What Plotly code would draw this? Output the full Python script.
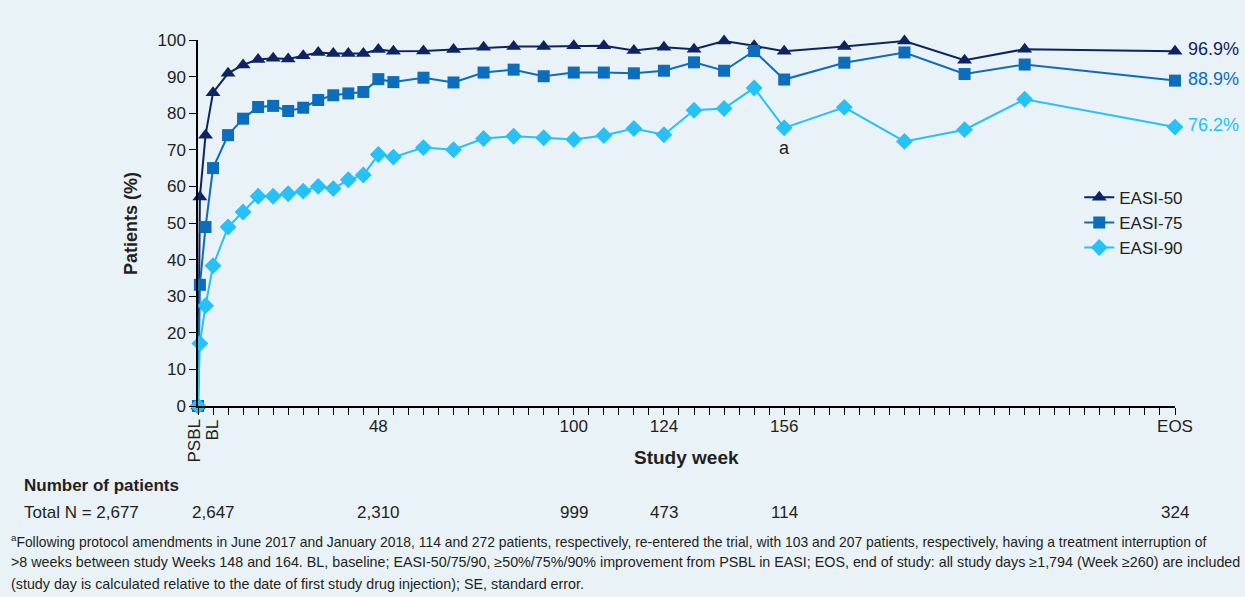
import plotly.graph_objects as go

# Study weeks (PSBL = 0, BL = week 4 position, EOS plotted at week 260)
weeks = [0, 0.5, 2, 4, 8, 12, 16, 20, 24, 28, 32, 36, 40, 44, 48, 52,
         60, 68, 76, 84, 92, 100, 108, 116, 124, 132, 140, 148, 156,
         172, 188, 204, 220, 260]

easi50 = [0, 57.1, 74.0, 85.6, 90.9, 93.2, 94.7, 95.0, 94.8, 95.7, 96.6, 96.3,
          96.3, 96.3, 97.4, 96.9, 97.0, 97.4, 98.0, 98.2, 98.2, 98.4, 98.4,
          97.1, 98.0, 97.5, 99.7, 98.4, 96.9, 98.2, 99.7, 94.5, 97.5, 96.9]

easi75 = [0, 33.1, 48.9, 65.0, 74.0, 78.5, 81.7, 82.0, 80.6, 81.5, 83.6, 84.9,
          85.4, 85.8, 89.3, 88.5, 89.7, 88.4, 91.1, 91.9, 90.1, 91.1, 91.1,
          90.9, 91.6, 93.9, 91.6, 97.0, 89.2, 93.8, 96.6, 90.7, 93.3, 88.9]

easi90 = [0, 17.1, 27.4, 38.3, 48.9, 53.0, 57.3, 57.3, 58.0, 58.7, 60.0, 59.4,
          61.8, 63.1, 68.7, 68.0, 70.6, 70.0, 73.1, 73.7, 73.3, 72.8, 73.9,
          75.8, 74.1, 80.8, 81.3, 86.9, 76.0, 81.6, 72.3, 75.5, 83.8, 76.2]

# Axis tick labels
minor_weeks = list(range(0, 261, 4))
major_weeks = [48, 100, 124, 156, 260]
major_labels = ["48", "100", "124", "156", "EOS"]
rotated_weeks = [0, 4]
rotated_labels = ["PSBL", "BL"]

# Number of patients row
n_weeks = [4, 48, 100, 124, 156, 260]
n_values = ["2,647", "2,310", "999", "473", "114", "324"]
total_n = "Total N = 2,677"

footnote_lines = [
    "<sup>a</sup>Following protocol amendments in June 2017 and January 2018, 114 and 272 patients, "
    "respectively, re-entered the trial, with 103 and 207 patients, respectively, having a treatment interruption of",
    ">8 weeks between study Weeks 148 and 164. BL, baseline; EASI-50/75/90, \u226550%/75%/90% improvement "
    "from PSBL in EASI; EOS, end of study: all study days \u22651,794 (Week \u2265260) are included",
    "(study day is calculated relative to the date of first study drug injection); SE, standard error.",
]

series = [
    ("EASI-50", easi50, "#0d2463", "triangle-up", 13),
    ("EASI-75", easi75, "#0b6dbb", "square", 12),
    ("EASI-90", easi90, "#25c1f7", "diamond", 13),
]

BG = "#e9f2f6"
TXT = "#231f20"
FONT = "Liberation Sans, Arial, sans-serif"

fig = go.Figure()
for name, vals, color, sym, size in series:
    fig.add_trace(go.Scatter(
        x=weeks, y=vals, name=name, mode="lines+markers",
        line=dict(color=color, width=2),
        marker=dict(symbol=sym, size=size, color=color),
        cliponaxis=False,
    ))

annotations = []
# End-of-study value labels
for name, vals, color, sym, size in series:
    annotations.append(dict(
        x=weeks[-1], y=vals[-1], xref="x", yref="y", text=f"{vals[-1]:.1f}%",
        showarrow=False, xanchor="left", yanchor="middle", xshift=11, yshift=2,
        font=dict(size=18, color=color, family=FONT),
    ))

# Footnote marker on EASI-90 at week 156
i156 = weeks.index(156)
annotations.append(dict(
    x=156, y=easi90[i156], xref="x", yref="y", text="a", showarrow=False,
    yanchor="top", yshift=-8, font=dict(size=18, color=TXT, family=FONT),
))

# Rotated PSBL / BL tick labels
for wk, lab in zip(rotated_weeks, rotated_labels):
    annotations.append(dict(
        x=wk, y=0, xref="x", yref="paper", text=lab, textangle=-90,
        showarrow=False, xanchor="center", yanchor="top", yshift=-12,
        xshift=-4 if wk == 0 else -1,
        font=dict(size=17, color=TXT, family=FONT),
    ))

# Axis titles
annotations.append(dict(
    x=0.5, y=-0.142, xref="paper", yref="paper", text="<b>Study week</b>",
    showarrow=False, xanchor="center", yanchor="middle",
    font=dict(size=19, color=TXT, family=FONT),
))
annotations.append(dict(
    x=-0.0686, y=0.5, xref="paper", yref="paper", text="<b>Patients (%)</b>",
    textangle=-90, showarrow=False, xanchor="center", yanchor="middle",
    font=dict(size=18, color=TXT, family=FONT),
))

# Number of patients block
annotations.append(dict(
    x=-0.180, y=-0.216, xref="paper", yref="paper", text="<b>Number of patients</b>",
    showarrow=False, xanchor="left", yanchor="middle",
    font=dict(size=17, color=TXT, family=FONT),
))
annotations.append(dict(
    x=-0.180, y=-0.292, xref="paper", yref="paper", text=total_n,
    showarrow=False, xanchor="left", yanchor="middle",
    font=dict(size=17, color=TXT, family=FONT),
))
for wk, n in zip(n_weeks, n_values):
    annotations.append(dict(
        x=wk, y=-0.292, xref="x", yref="paper", text=n,
        showarrow=False, xanchor="center", yanchor="middle",
        font=dict(size=17, color=TXT, family=FONT),
    ))

# Footnotes
foot_sizes = [13.9, 14.3, 14.3]
for k, line in enumerate(footnote_lines):
    annotations.append(dict(
        x=-0.193, y=-0.369 - k * 0.058, xref="paper", yref="paper", text=line,
        showarrow=False, xanchor="left", yanchor="middle", align="left",
        font=dict(size=foot_sizes[k], color=TXT, family=FONT),
    ))

fig.update_layout(
    width=1245, height=597,
    margin=dict(l=198, r=70, t=40, b=191),
    paper_bgcolor=BG, plot_bgcolor=BG,
    font=dict(family=FONT, size=17, color=TXT),
    showlegend=True,
    legend=dict(
        x=0.902, y=0.618, xanchor="left", yanchor="top",
        bgcolor="rgba(0,0,0,0)", font=dict(size=17, color=TXT),
        itemwidth=30, tracegroupgap=0,
    ),
    annotations=annotations,
    xaxis=dict(
        range=[0, 260], showgrid=False, zeroline=False,
        showline=True, linecolor="#000000", linewidth=1.5,
        ticks="outside", ticklen=7, tickwidth=1, tickcolor="#000000",
        tickmode="array", tickvals=major_weeks, ticktext=major_labels,
        ticklabelstandoff=-3,
        minor=dict(tickmode="array", tickvals=minor_weeks, ticks="outside",
                   ticklen=7, tickwidth=1, tickcolor="#000000"),
        tickangle=0, tickfont=dict(size=17, color=TXT),
    ),
    yaxis=dict(
        range=[0, 100], showgrid=False, zeroline=False,
        showline=True, linecolor="#000000", linewidth=1.5,
        ticks="outside", ticklen=7, tickwidth=1, tickcolor="#000000",
        tickvals=list(range(0, 101, 10)), tickfont=dict(size=17, color=TXT),
    ),
)

fig.write_html("out.html")
